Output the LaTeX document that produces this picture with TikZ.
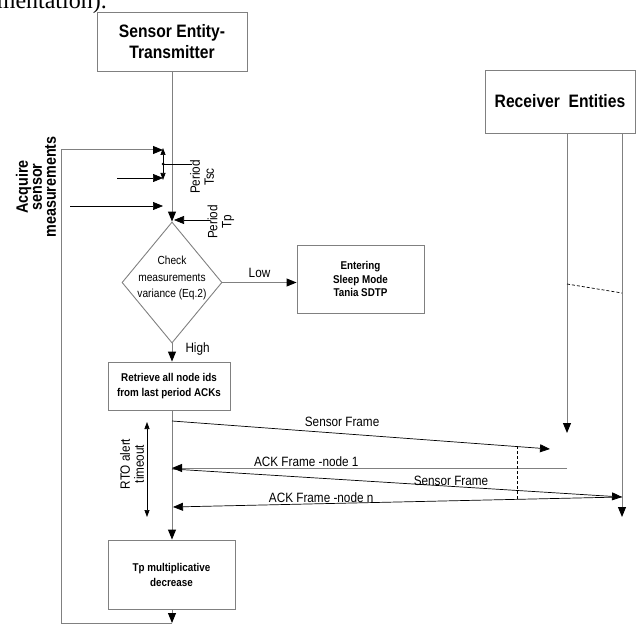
\documentclass[tikz,border=0pt]{standalone}
\usepackage{fontspec}
\setmainfont{Liberation Serif}
\setsansfont[FakeStretch=0.87]{Liberation Sans}
\usepackage{tikz}
\usetikzlibrary{shapes,arrows,arrows.meta,positioning}

\begin{document}
\begin{tikzpicture}[x=1pt, y=-1pt, auto,
  >={Triangle[length=10pt,width=8pt,color=black]},
  box/.style={draw=gray, line width=0.9pt, rectangle, align=center, inner sep=0pt,
    font=\sffamily\bfseries\fontsize{11.3}{15}\selectfont},
  life/.style={draw=gray, line width=1pt},
  msg/.style={->, line width=0.7pt},
  small/.style={{Triangle[length=7pt,width=5pt]}-{Triangle[length=7pt,width=5pt]}, line width=0.7pt},
  lbl/.style={font=\sffamily\fontsize{13.5}{14}\selectfont, align=center, inner sep=1pt}]
\useasboundingbox (0,0) rectangle (641,626);
\node (pagetext) [anchor=base east, inner sep=0pt, font=\rmfamily\fontsize{24}{24}\selectfont] at (107,9) {mentation).};

\node (sensor) [box, minimum width=150pt, minimum height=59pt, font=\sffamily\bfseries\fontsize{18}{21}\selectfont] at (172,41.5) {Sensor Entity-\\Transmitter};
\node (receiver) [box, minimum width=150pt, minimum height=63pt, font=\sffamily\bfseries\fontsize{18}{21}\selectfont] at (560,101.5) {Receiver\ \ Entities};
\node (check) [draw=gray, line width=0.9pt, diamond, minimum width=100pt, minimum height=121pt, inner sep=0pt] at (172,282.5) {};
\node (checktext) [align=center, inner sep=0pt, font=\sffamily\fontsize{11.7}{16.5}\selectfont] at (172,278) {Check\\measurements\\variance (Eq.2)};
\node (sleep) [box, minimum width=127pt, minimum height=68pt, font=\sffamily\bfseries\fontsize{11.3}{13.2}\selectfont] at (360.5,279) {Entering\\Sleep Mode\\Tania SDTP};
\node (retrieve) [box, minimum width=122pt, minimum height=48pt] at (169,386) {Retrieve all node ids\\from last period ACKs};
\node (tp) [box, minimum width=127pt, minimum height=69pt] at (171.5,574.5) {Tp multiplicative\\decrease};

\node (acquire) [rotate=90, align=center, font=\sffamily\bfseries\fontsize{16.5}{14}\selectfont] at (36,187) {Acquire\\sensor\\measurements};

% inputs to the transmitter
\coordinate (loopA) at (172,623);
\coordinate (loopB) at (61,150);
\coordinate (tscA) at (163,150);
\coordinate (tscB) at (163,178);
\coordinate (tscMid) at (163,164);
\coordinate (tscEnd) at (192,164);
\coordinate (inB) at (117,178);
\coordinate (inC) at (70,206);
\coordinate (inCend) at (163,206);
\coordinate (tpStart) at (210,220);
\coordinate (tpEnd) at (174,220);

\draw[life,->] (sensor) -- (check);
\draw[msg] (inB) -- (tscB);
\draw[msg] (inC) -- (inCend);
\draw[small] ([yshift=2pt]tscA) -- ([yshift=-2pt]tscB);
\fill (tscMid) circle (1.5pt);
\draw[line width=0.7pt] (tscMid) -- (tscEnd);
\node (tsclbl) [lbl, rotate=90] at (202,177) {Period\\Tsc};
\draw[msg] (tpStart) -- (tpEnd);
\node (tplbl) [lbl, rotate=90] at (221,222) {Period\\Tp};

\draw[life,->] (check.east) -- (check.east -| sleep.west) node[lbl, midway, above=3pt] {Low};
\draw[life,->] (check.south) -- (check.south |- retrieve.north) node[lbl, pos=0.3, right=12pt] {High};
\draw[life,->] (check.south |- retrieve.south) -- (check.south |- tp.north);
\draw[life,->] (check.south |- tp.south) -- (loopA);
\draw[life,->] (loopA) -| (loopB) -- (tscA);

% receiver lifelines
\coordinate (rxAend) at (567,433);
\coordinate (rxBend) at (622,517);
\coordinate (dashA) at (567,284);
\coordinate (dashB) at (622,293);
\draw[life,->] (receiver.south -| rxAend) -- (rxAend);
\draw[life,->] (receiver.south -| rxBend) -- (rxBend);
\draw[densely dashed, line width=0.7pt] (dashA) -- (dashB);

% frames
\coordinate (txSend1) at (172,421);
\coordinate (rxGet1) at (550,449);
\coordinate (rxAck1) at (567,468);
\coordinate (txAck1) at (172,468);
\coordinate (txSend2) at (172,469);
\coordinate (rxGet2) at (622,497);
\coordinate (txAckN) at (173,507);
\coordinate (gapTop) at (517,446);
\coordinate (gapBot) at (517,499);
\draw[msg] (txSend1) -- (rxGet1) node[lbl, pos=0.45, above=6pt] {Sensor Frame};
\draw[life,->] (rxAck1) -- (txAck1) node[lbl, pos=0.66, above] {ACK Frame -node 1};
\draw[msg] (txSend2) -- (rxGet2) node[lbl, pos=0.62, anchor=south, inner sep=0pt] {Sensor Frame};
\draw[msg] (rxGet2) -- (txAckN) node[lbl, pos=0.67, anchor=south, inner sep=0.5pt] {ACK Frame -node n};
\draw[densely dashed, line width=0.6pt] (gapTop) -- (gapBot);

% timeout
\coordinate (rtoTop) at (147,422);
\coordinate (rtoBot) at (147,517);
\draw[small] (rtoTop) -- (rtoBot);
\node (rtolbl) [lbl, rotate=90] at (132,464) {RTO alert\\timeout};
\end{tikzpicture}
\end{document}
